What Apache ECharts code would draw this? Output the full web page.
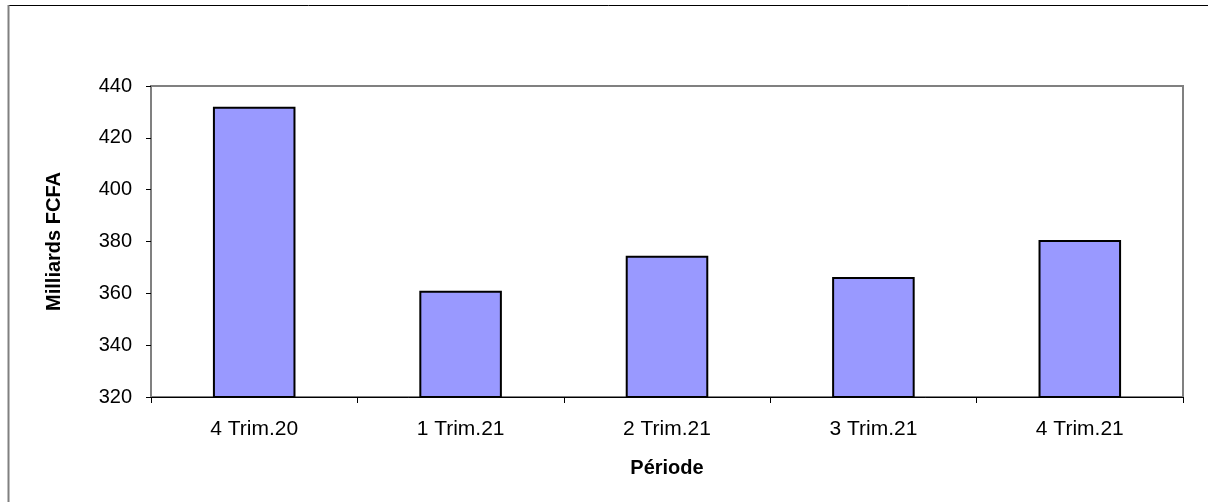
<!DOCTYPE html>
<html>
<head>
<meta charset="utf-8">
<script src="https://cdn.jsdelivr.net/npm/echarts@6/dist/echarts.min.js"></script>
<style>html,body{margin:0;padding:0;background:#fff}#c{width:1208px;height:502px}</style>
</head>
<body>
<div id="c"></div>
<script>
const categories = ['4 Trim.20', '1 Trim.21', '2 Trim.21', '3 Trim.21', '4 Trim.21'];
const values = [432, 361, 374.5, 366.3, 380.6];
const yTicks = [320, 340, 360, 380, 400, 420, 440];

const chart = echarts.init(document.getElementById('c'), null, {renderer: 'canvas'});
const font = 'Liberation Sans, Arial, sans-serif';
chart.setOption({
  animation: false,
  backgroundColor: '#fff',
  graphic: [
    {type: 'rect', shape: {x: 8.5, y: 5.5, width: 1240, height: 520}, style: {fill: 'none', stroke: '#000', lineWidth: 1}, z: -1},
    {type: 'line', shape: {x1: 8.5, y1: 5, x2: 8.5, y2: 502}, style: {stroke: '#808080', lineWidth: 2}, z: -1}
  ],
  grid: {left: 151, top: 86, width: 1032, height: 311, show: true, borderColor: '#808080', borderWidth: 2, backgroundColor: '#fff'},
  xAxis: {
    type: 'category',
    data: categories,
    name: 'Période',
    nameLocation: 'middle',
    nameGap: 61,
    nameTextStyle: {fontFamily: font, fontSize: 20, fontWeight: 'bold', color: '#000'},
    axisLine: {lineStyle: {color: '#000', width: 1}},
    axisTick: {show: true, alignWithLabel: false, length: 6, lineStyle: {color: '#000'}},
    axisLabel: {fontFamily: font, fontSize: 21, color: '#000', margin: 22}
  },
  yAxis: {
    type: 'value',
    min: 320, max: 440, interval: 20,
    name: 'Milliards FCFA',
    nameLocation: 'middle',
    nameGap: 87,
    nameRotate: 90,
    nameTextStyle: {fontFamily: font, fontSize: 20, fontWeight: 'bold', color: '#000'},
    axisLine: {show: true, lineStyle: {color: '#808080', width: 2}},
    axisTick: {show: true, length: 5, lineStyle: {color: '#000'}},
    splitLine: {show: false},
    axisLabel: {fontFamily: font, fontSize: 20, color: '#000', margin: 19,
      formatter: v => yTicks.includes(v) ? String(v) : ''}
  },
  series: [{
    type: 'bar',
    data: values,
    barWidth: '40%',
    itemStyle: {color: '#9999FF', borderColor: '#000', borderWidth: 2}
  }]
});
</script>
</body>
</html>
